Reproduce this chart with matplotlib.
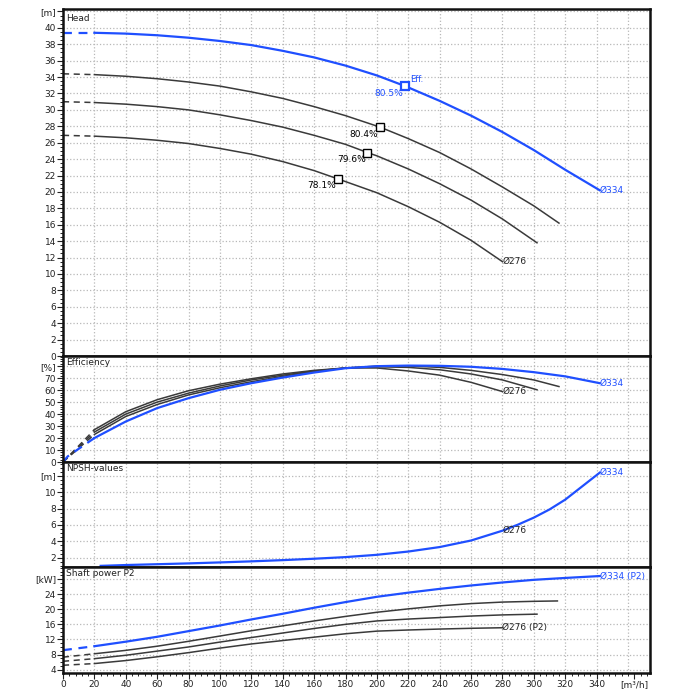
import matplotlib
matplotlib.use('Agg')
import matplotlib.pyplot as plt
import numpy as np
from matplotlib.ticker import MultipleLocator

BLUE = '#1f4fff'
GRAY = '#3a3a3a'

# ---- head curves [m] vs flow [m3/h]
q_b = [20, 40, 60, 80, 100, 120, 140, 160, 180, 200, 218, 240, 260, 280, 300, 320, 342]
h_b = [39.4, 39.3, 39.1, 38.8, 38.4, 37.9, 37.2, 36.4, 35.4, 34.2, 32.9, 31.1, 29.3, 27.3, 25.1, 22.7, 20.2]
q_g1 = [20, 40, 60, 80, 100, 120, 140, 160, 180, 202, 220, 240, 260, 280, 300, 316]
h_g1 = [34.3, 34.1, 33.8, 33.4, 32.9, 32.2, 31.4, 30.4, 29.3, 27.9, 26.5, 24.8, 22.8, 20.6, 18.3, 16.2]
q_g2 = [20, 40, 60, 80, 100, 120, 140, 160, 180, 194, 200, 220, 240, 260, 280, 302]
h_g2 = [30.9, 30.7, 30.4, 30.0, 29.4, 28.7, 27.9, 26.9, 25.8, 24.8, 24.4, 22.8, 21.0, 19.0, 16.7, 13.8]
q_g3 = [20, 40, 60, 80, 100, 120, 140, 160, 175, 200, 220, 240, 260, 280]
h_g3 = [26.8, 26.6, 26.3, 25.9, 25.3, 24.6, 23.7, 22.6, 21.6, 19.9, 18.2, 16.3, 14.1, 11.5]
h0 = [39.4, 34.4, 31.0, 26.9]  # shut-off heads (dashed part)

# efficiency points on head curves
eff_q = [218, 202, 194, 175]
eff_h = [32.9, 27.9, 24.8, 21.6]
eff_txt = ['80.5%', '80.4%', '79.6%', '78.1%']

# ---- efficiency [%]
e_q_b = [0, 3, 20, 40, 60, 80, 100, 120, 140, 160, 180, 200, 220, 240, 260, 280, 300, 320, 342]
e_b = [0, 4.7, 20, 33.8, 45, 53.3, 60.3, 65.8, 70.5, 74.7, 78.3, 80, 80.5, 80.3, 79.5, 77.7, 75, 71.5, 65.8]
e_q_g1 = [0, 20, 40, 60, 80, 100, 120, 140, 160, 180, 200, 220, 240, 260, 280, 300, 316]
e_g1 = [0, 23, 38, 48, 56, 62, 67, 71.5, 75.5, 78.5, 80, 80.2, 79, 76.5, 73, 68.5, 63]
e_q_g2 = [0, 20, 40, 60, 80, 100, 120, 140, 160, 180, 200, 220, 240, 260, 280, 302]
e_g2 = [0, 25, 40, 50, 57.5, 63.5, 68.5, 72.5, 76, 78.5, 79.5, 79, 77, 73.5, 68.5, 60.3]
e_q_g3 = [0, 20, 40, 60, 80, 100, 120, 140, 160, 180, 200, 220, 240, 260, 280]
e_g3 = [0, 27, 42, 52, 59.5, 65, 69.5, 73.5, 76.5, 78.5, 78.5, 76, 72.5, 66.5, 58.8]

# ---- NPSH [m]
n_q = [24, 40, 60, 80, 100, 120, 140, 160, 180, 200, 220, 240, 260, 280, 290, 300, 310, 320, 330, 342]
n_b = [1.0, 1.1, 1.2, 1.3, 1.42, 1.55, 1.7, 1.87, 2.07, 2.35, 2.75, 3.3, 4.1, 5.3, 6.05, 6.9, 7.9, 9.1, 10.6, 12.4]

# ---- shaft power P2 [kW]
p_q_b = [0, 20, 40, 60, 80, 100, 120, 140, 160, 180, 200, 220, 240, 260, 280, 300, 320, 342]
p_b = [9.15, 10.2, 11.4, 12.7, 14.2, 15.7, 17.3, 18.8, 20.4, 21.9, 23.3, 24.4, 25.4, 26.3, 27.1, 27.8, 28.3, 28.8]
p_q_g1 = [0, 20, 40, 60, 80, 100, 120, 140, 160, 180, 200, 220, 240, 260, 280, 300, 315]
p_g1 = [7.3, 8.2, 9.1, 10.2, 11.5, 12.9, 14.3, 15.6, 16.9, 18.1, 19.2, 20.1, 20.9, 21.5, 21.9, 22.1, 22.2]
p_q_g2 = [0, 20, 40, 60, 80, 100, 120, 140, 160, 180, 200, 220, 240, 260, 280, 302]
p_g2 = [6.2, 6.9, 7.8, 8.9, 10.0, 11.3, 12.5, 13.7, 14.9, 16.0, 16.9, 17.4, 17.8, 18.2, 18.5, 18.7]
p_q_g3 = [0, 20, 40, 60, 80, 100, 120, 140, 160, 180, 200, 220, 240, 260, 280]
p_g3 = [5.15, 5.6, 6.4, 7.4, 8.5, 9.7, 10.8, 11.7, 12.6, 13.5, 14.2, 14.5, 14.75, 14.95, 15.1]

x_ticks = list(range(0, 341, 20))

fig = plt.figure(figsize=(7, 7), dpi=100)
L, R = 63 / 700, 650 / 700
def pos(top, bot):
    return [L, 1 - bot / 700, R - L, (bot - top) / 700]

ax_h = fig.add_axes(pos(9, 356))
ax_e = fig.add_axes(pos(356, 462))
ax_n = fig.add_axes(pos(462, 567))
ax_p = fig.add_axes(pos(567, 673))
axes = [ax_h, ax_e, ax_n, ax_p]

def style(ax, ylim, major, minor, unit, title):
    ax.set_xlim(0, 374)
    ax.set_ylim(*ylim)
    ax.xaxis.set_major_locator(MultipleLocator(20))
    ax.xaxis.set_minor_locator(MultipleLocator(4))
    ticks = list(np.arange(major[0], major[1] + 0.01, major[2]))
    ax.set_yticks(ticks + [major[3]])
    ax.set_yticklabels([f'{t:g}' for t in ticks] + [unit])
    ax.yaxis.set_minor_locator(MultipleLocator(minor))
    ax.tick_params(axis='both', labelsize=6.5, colors='#222222', length=4, width=0.8, pad=1)
    ax.tick_params(which='minor', length=2.5, width=0.6)
    ax.grid(True, which='major', color='#b8b8b8', linestyle=':', linewidth=0.9)
    for sp in ax.spines.values():
        sp.set_linewidth(1.8)
        sp.set_color('#111111')
    ax.text(0.005, 0.985, title, transform=ax.transAxes, fontsize=6.5,
            va='top', ha='left', color='#222222')

style(ax_h, (0, 42.3), (0, 40, 2, 42), 0.5, '[m]', 'Head')
style(ax_e, (0, 88.5), (0, 70, 10, 80), 2, '[%]', 'Efficiency')
style(ax_n, (0.86, 13.7), (2, 10, 2, 12), 0.5, '[m]', 'NPSH-values')
style(ax_p, (3.1, 31.2), (4, 24, 4, 28), 1, '[kW]', 'Shaft power P2')

for ax in axes[:-1]:
    ax.tick_params(labelbottom=False, bottom=False, which='both')
ax_p.set_xticks(x_ticks + [364])
ax_p.set_xticklabels([str(t) for t in x_ticks] + ['[m³/h]'])
ax_p.get_xgridlines()[-1].set_visible(False)
ax_p.axvline(360, color='#b8b8b8', linestyle=':', linewidth=0.9, zorder=0)

# ---- head
gray_sets = [(q_g1, h_g1), (q_g2, h_g2), (q_g3, h_g3)]
for (q, h), s in zip(gray_sets, h0[1:]):
    ax_h.plot([0, q[0]], [s, h[0]], color=GRAY, lw=1.1, ls=(0, (4, 3)))
    ax_h.plot(q, h, color=GRAY, lw=1.1)
ax_h.plot([0, q_b[0]], [h0[0], h_b[0]], color=BLUE, lw=1.6, ls=(0, (4, 3)))
ax_h.plot(q_b, h_b, color=BLUE, lw=1.6)

for i, (q, h, t) in enumerate(zip(eff_q, eff_h, eff_txt)):
    c = BLUE if i == 0 else 'black'
    ax_h.plot(q, h, marker='s', ms=6, mfc='white', mec=c, mew=1.6 if i == 0 else 1.0, zorder=5)
    ax_h.text(q - 1, h - 0.3, t, fontsize=6.5, color=c, ha='right', va='top')
ax_h.text(eff_q[0] + 3, eff_h[0] + 0.3, 'Eff.', fontsize=6, color=BLUE, ha='left', va='bottom')
ax_h.text(q_b[-1], h_b[-1], 'Ø334', fontsize=6.5, color=BLUE, va='center')
ax_h.text(q_g3[-1], h_g3[-1], 'Ø276', fontsize=6.5, color='#222222', va='center')

# ---- efficiency
for q, e in [(e_q_g3, e_g3), (e_q_g2, e_g2), (e_q_g1, e_g1)]:
    ax_e.plot(q[:2], e[:2], color=GRAY, lw=1.1, ls=(0, (4, 3)))
    ax_e.plot(q[1:], e[1:], color=GRAY, lw=1.1)
ax_e.plot(e_q_b[:3], e_b[:3], color=BLUE, lw=1.6, ls=(0, (4, 3)))
ax_e.plot(e_q_b[2:], e_b[2:], color=BLUE, lw=1.6)
ax_e.text(e_q_b[-1], e_b[-1], 'Ø334', fontsize=6.5, color=BLUE, va='center')
ax_e.text(e_q_g3[-1], e_g3[-1], 'Ø276', fontsize=6.5, color='#222222', va='center')

# ---- NPSH
ax_n.plot(n_q, n_b, color=BLUE, lw=1.6)
ax_n.text(n_q[-1], n_b[-1], 'Ø334', fontsize=6.5, color=BLUE, va='center')
ax_n.text(280, 5.3, 'Ø276', fontsize=6.5, color='#222222', va='center')

# ---- power
for q, p in [(p_q_g1, p_g1), (p_q_g2, p_g2), (p_q_g3, p_g3)]:
    ax_p.plot(q[:2], p[:2], color=GRAY, lw=1.1, ls=(0, (4, 3)))
    ax_p.plot(q[1:], p[1:], color=GRAY, lw=1.1)
ax_p.plot(p_q_b[:2], p_b[:2], color=BLUE, lw=1.6, ls=(0, (4, 3)))
ax_p.plot(p_q_b[1:], p_b[1:], color=BLUE, lw=1.6)
ax_p.text(p_q_b[-1], p_b[-1], 'Ø334 (P2)', fontsize=6.5, color=BLUE, va='center')
ax_p.text(p_q_g3[-1], p_g3[-1], 'Ø276 (P2)', fontsize=6.5, color='#222222', va='center')

fig.savefig('out.png', dpi=100)
